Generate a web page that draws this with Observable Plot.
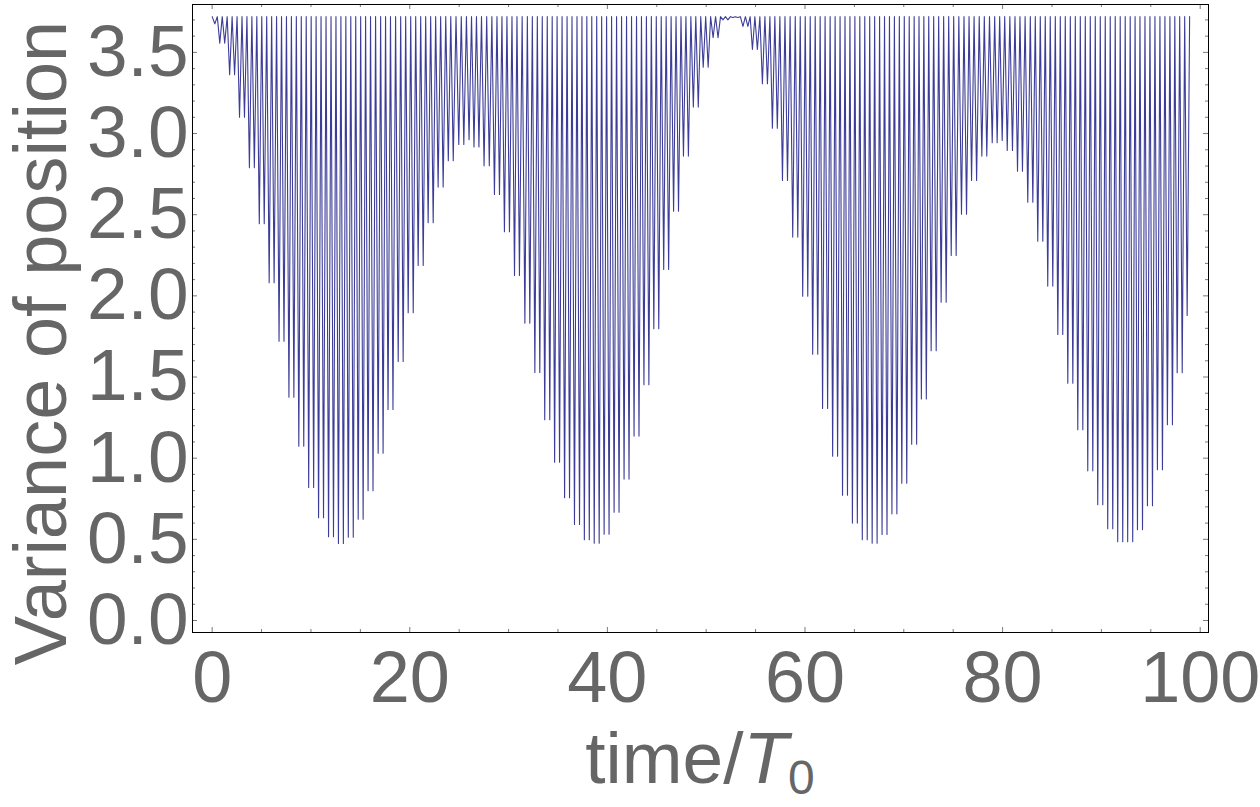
<!DOCTYPE html>
<html>
<head>
<meta charset="utf-8">
<script src="https://cdn.jsdelivr.net/npm/d3@7"></script>
<script src="https://cdn.jsdelivr.net/npm/@observablehq/plot@0.6"></script>
<style>
  html, body { margin: 0; padding: 0; background: #fff; }
  #chart svg { display: block; overflow: visible; }
</style>
</head>
<body>
<div id="chart"></div>
<script>
// ---- data ----
// times (in units of T0) of each local minimum of the variance curve
const dipTime = [
  0.27, 0.77, 1.27, 1.77, 2.27, 2.77, 3.27, 3.77, 4.27, 4.77, 5.27, 5.77, 6.27, 6.77, 7.27,
  7.77, 8.27, 8.77, 9.27, 9.77, 10.27, 10.77, 11.27, 11.78, 12.28, 12.78, 13.28, 13.78, 14.28,
  14.78, 15.28, 15.78, 16.28, 16.8, 17.3, 17.8, 18.3, 18.83, 19.33, 19.84, 20.35, 20.85, 21.36,
  21.86, 22.37, 22.87, 23.38, 23.9, 24.4, 24.96, 25.47, 26.0, 26.5, 27.0, 27.52, 28.05, 28.57,
  29.08, 29.58, 30.09, 30.6, 31.1, 31.65, 32.15, 32.66, 33.16, 33.66, 34.17, 34.66, 35.16,
  35.67, 36.17, 36.67, 37.18, 37.67, 38.17, 38.67, 39.17, 39.67, 40.17, 40.68, 41.18, 41.69,
  42.19, 42.7, 43.2, 43.7, 44.2, 44.7, 45.2, 45.7, 46.2, 46.7, 47.2, 47.7, 48.2, 48.7, 49.2,
  49.7, 50.2, 50.7, 51.2, 51.7, 52.2, 52.7, 53.2, 53.72, 54.22, 54.68, 55.18, 55.69, 56.2,
  56.7, 57.2, 57.72, 58.23, 58.76, 59.27, 59.77, 60.28, 60.78, 61.29, 61.78, 62.29, 62.8, 63.3,
  63.8, 64.3, 64.8, 65.3, 65.8, 66.3, 66.8, 67.3, 67.8, 68.3, 68.8, 69.3, 69.8, 70.3, 70.8,
  71.3, 71.78, 72.28, 72.77, 73.28, 73.78, 74.29, 74.8, 75.3, 75.84, 76.35, 76.86, 77.37,
  77.9, 78.4, 78.95, 79.45, 79.96, 80.47, 81.0, 81.51, 82.01, 82.55, 83.06, 83.56, 84.07,
  84.57, 85.08, 85.59, 86.09, 86.6, 87.11, 87.61, 88.12, 88.62, 89.13, 89.63, 90.14, 90.64,
  91.15, 91.65, 92.16, 92.66, 93.17, 93.65, 94.16, 94.66, 95.17, 95.67, 96.18, 96.68, 97.19,
  97.67, 98.18, 98.68
];
// variance at each of those minima
const dipMin = [
  3.676, 3.557, 3.557, 3.362, 3.362, 3.101, 3.101, 2.790, 2.790, 2.444, 2.444, 2.081, 2.081, 1.721, 1.721,
  1.376, 1.376, 1.074, 1.074, 0.819, 0.819, 0.633, 0.633, 0.516, 0.516, 0.474, 0.474, 0.513, 0.513,
  0.624, 0.624, 0.799, 0.799, 1.031, 1.031, 1.300, 1.300, 1.596, 1.596, 1.896, 1.896, 2.187, 2.187,
  2.450, 2.450, 2.670, 2.670, 2.833, 2.833, 2.933, 2.933, 2.962, 2.917, 2.917, 2.801, 2.801, 2.625,
  2.625, 2.395, 2.395, 2.126, 2.126, 1.832, 1.832, 1.528, 1.528, 1.237, 1.237, 0.975, 0.975,
  0.756, 0.756, 0.591, 0.591, 0.497, 0.497, 0.476, 0.476, 0.532, 0.532, 0.667, 0.667, 0.871,
  0.871, 1.136, 1.136, 1.452, 1.452, 1.797, 1.797, 2.163, 2.163, 2.522, 2.522, 2.861, 2.861, 3.163, 3.163,
  3.409, 3.409, 3.590, 3.590, 3.700, 3.700, 3.715, 3.715, 3.660, 3.660, 3.518, 3.518, 3.307, 3.307,
  3.033, 3.033, 2.711, 2.711, 2.362, 2.362, 1.998, 1.998, 1.641, 1.641, 1.306, 1.306, 1.012, 1.012,
  0.772, 0.772, 0.600, 0.600, 0.497, 0.497, 0.476, 0.476, 0.530, 0.530, 0.657, 0.657, 0.846, 0.846, 1.086,
  1.086, 1.365, 1.365, 1.662, 1.662, 1.961, 1.961, 2.249, 2.249, 2.503, 2.503, 2.711, 2.711,
  2.861, 2.861, 2.943, 2.943, 2.957, 2.896, 2.896, 2.768, 2.768, 2.577, 2.577, 2.337, 2.337,
  2.060, 2.060, 1.762, 1.762, 1.462, 1.462, 1.175, 1.175, 0.922, 0.922, 0.713, 0.713, 0.565,
  0.565, 0.485, 0.485, 0.485, 0.485, 0.559, 0.559, 0.707, 0.707, 0.929, 0.929, 1.206, 1.206,
  1.526, 1.526, 1.879
];
const peakLevel = 3.72;      // value reached between every two minima
const tStart = 0, tEnd = 98.93;

const xMajor = [0, 20, 40, 60, 80, 100];
const xMinor = [5, 10, 15, 25, 30, 35, 45, 50, 55, 65, 70, 75, 85, 90, 95];
const yMajor = [0, 0.5, 1, 1.5, 2, 2.5, 3, 3.5];
const yMinor = [0.1,0.2,0.3,0.4,0.6,0.7,0.8,0.9,1.1,1.2,1.3,1.4,1.6,1.7,1.8,1.9,2.1,2.2,2.3,2.4,2.6,2.7,2.8,2.9,3.1,3.2,3.3,3.4,3.6,3.7];

// build the curve: peak, minimum, peak, minimum, ...
const series = [{t: tStart, v: peakLevel}];
dipTime.forEach((t, i) => {
  if (i > 0) series.push({t: (dipTime[i - 1] + t) / 2, v: peakLevel});
  series.push({t, v: dipMin[i]});
});
series.push({t: tEnd, v: peakLevel});

const W = 1260, H = 807;
const mL = 192, mR = 52, mT = 4, mB = 175;
const frameH = H - mT - mB, frameW = W - mL - mR;
const tickCol = "#7a7a7a";
const font = "'Liberation Sans', Arial, Helvetica, sans-serif";

const chart = Plot.plot({
  width: W, height: H,
  marginLeft: mL, marginRight: mR, marginTop: mT, marginBottom: mB,
  x: {domain: [-1.99, 100.84]},
  y: {domain: [-0.074, 3.795]},
  style: {background: "#fff", fontFamily: font},
  marks: [
    Plot.line(series, {x: "t", y: "v", stroke: "#3d3d99", strokeWidth: 1.1}),
    // inward frame ticks
    Plot.tickX(xMajor, {x: d => d, insetTop: frameH - 5, stroke: tickCol}),
    Plot.tickX(xMajor, {x: d => d, insetBottom: frameH - 5, stroke: tickCol}),
    Plot.tickX(xMinor, {x: d => d, insetTop: frameH - 3, stroke: tickCol}),
    Plot.tickX(xMinor, {x: d => d, insetBottom: frameH - 3, stroke: tickCol}),
    Plot.tickY(yMajor, {y: d => d, insetRight: frameW - 5, stroke: tickCol}),
    Plot.tickY(yMajor, {y: d => d, insetLeft: frameW - 5, stroke: tickCol}),
    Plot.tickY(yMinor, {y: d => d, insetRight: frameW - 3, stroke: tickCol}),
    Plot.tickY(yMinor, {y: d => d, insetLeft: frameW - 3, stroke: tickCol}),
    Plot.axisX(xMajor, {tickSize: 0, tickPadding: 18, fontSize: 72, color: "#666", tickFormat: d => String(d), label: null}),
    Plot.axisY(yMajor, {tickSize: 0, tickPadding: 4, fontSize: 73, color: "#666", tickFormat: d3.format(".1f"), label: null}),
    Plot.frame({stroke: "#000", strokeWidth: 1})
  ]
});
document.getElementById("chart").appendChild(chart);

// axis titles
const svg = d3.select(chart);
const xt = svg.append("text")
  .attr("x", mL + frameW / 2).attr("y", 783)
  .attr("text-anchor", "middle").attr("fill", "#666")
  .style("font-family", font).style("font-size", "73px");
xt.append("tspan").text("time/");
xt.append("tspan").style("font-style", "italic").text("T");
xt.append("tspan").attr("dy", 11).style("font-size", "48px").text("0");

svg.append("text")
  .attr("transform", `translate(66, ${mT + frameH / 2 + 25}) rotate(-90)`)
  .attr("text-anchor", "middle").attr("fill", "#666")
  .style("font-family", font).style("font-size", "74px")
  .text("Variance of position");
</script>
</body>
</html>
